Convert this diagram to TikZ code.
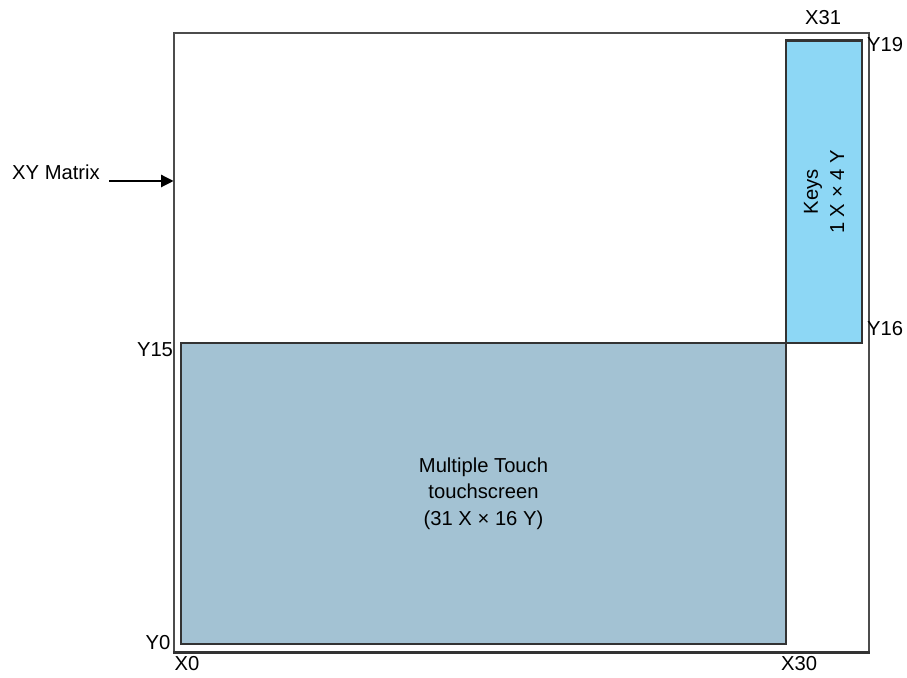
\documentclass[tikz,border=0pt]{standalone}
\usepackage{fontspec}
\setmainfont{Liberation Sans}
\usepackage{tikz}
\usetikzlibrary{arrows.meta}

\definecolor{touchblue}{HTML}{A3C2D3}
\definecolor{keyblue}{HTML}{8DD7F5}

\tikzset{
  area/.style = {draw = black!80, line width = 0.6pt, inner sep = 0pt},
  lbl/.style = {inner sep = 1pt},
  pointer/.style = {-{Triangle[length = 7pt, width = 7pt]}, line width = 0.7pt}
}

\begin{document}
\begin{tikzpicture}[font = \fontsize{11.5}{15}\selectfont]
  \useasboundingbox (0, 0) rectangle (18.14, 13.54);

  \node[area, draw = black!70, minimum width = 13.90cm, minimum height = 12.38cm] (M) at (10.43, 6.69) {};
  \node[area, fill = touchblue, minimum width = 12.10cm, minimum height = 6.02cm, align = center] (T) at (9.67, 3.67)
    {Multiple Touch\\touchscreen\\(31 X × 16 Y)};
  \node[area, fill = keyblue, minimum width = 1.52cm, minimum height = 6.04cm] (K) at (16.48, 9.70) {};
  \node[rotate = 90, align = center] (Ktext) at (K.center) {Keys\\1 X × 4 Y};

  % heavier bottom edge of the matrix and top edge of the keys
  \draw[line width = 1.6pt, black!80] (M.south west) -- (M.south east);
  \draw[line width = 1.4pt, black!80] (K.north west) -- (K.north east);

  \node (XY) at (1.12, 10.10) {XY Matrix};
  \draw[pointer]
  ([xshift = 0.06cm, yshift = -0.18cm]XY.east) -- ([yshift = -0.18cm]XY.east -| M.west);

  \node[lbl] (X31) at (16.46, 13.18) {X31};
  \node[lbl] (Y19) at (17.70, 12.64) {Y19};
  \node[lbl] (Y16) at (17.70, 6.96) {Y16};
  \node[lbl] (Y15) at (3.10, 6.54) {Y15};
  \node[lbl] (Y0) at (3.16, 0.68) {Y0};
  \node[lbl] (X0) at (3.74, 0.26) {X0};
  \node[lbl] (X30) at (15.98, 0.26) {X30};

\end{tikzpicture}
\end{document}
